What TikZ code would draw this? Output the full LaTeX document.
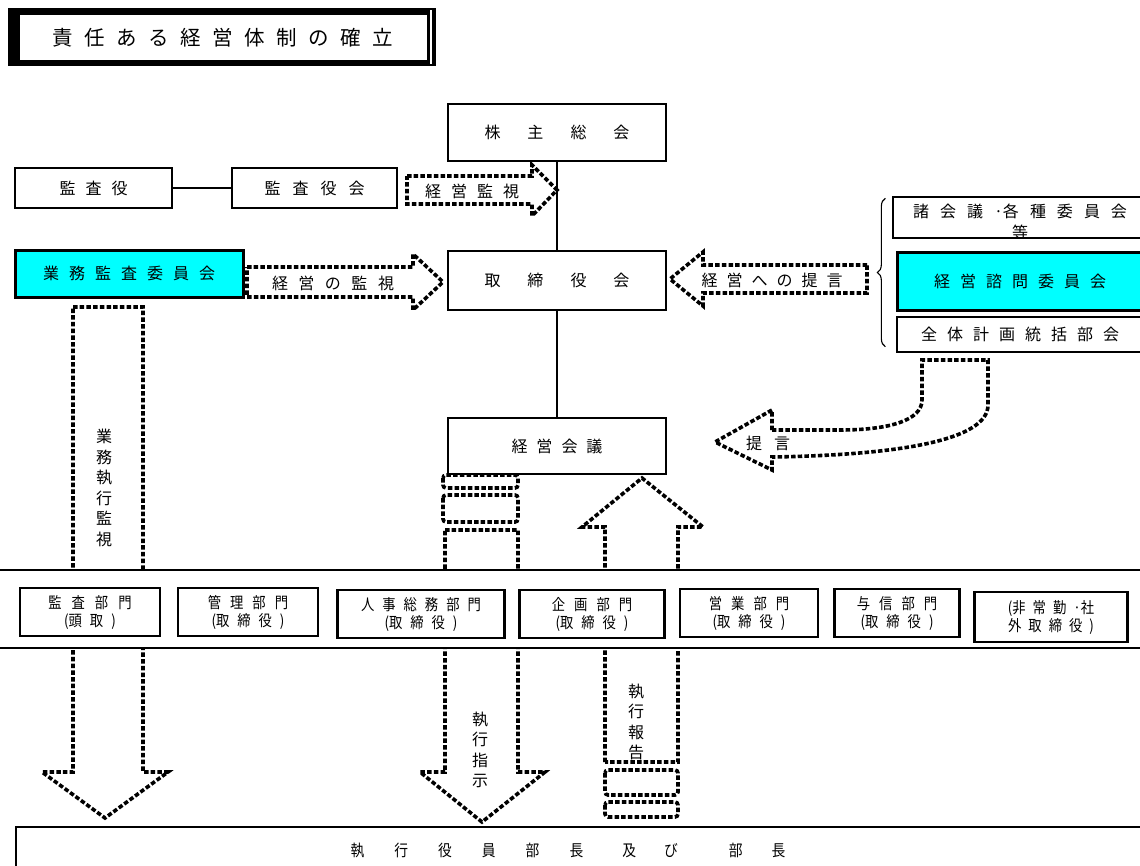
\documentclass[tikz,border=0pt]{standalone}
\usepackage{fontspec}
\setmainfont{Noto Sans CJK JP}
\newfontfamily\narrowjp[FakeStretch=0.86]{Noto Sans CJK JP}
\usetikzlibrary{decorations.pathreplacing}
\definecolor{boardcyan}{RGB}{0,255,255}

% spread the characters of #2 apart by #1
\ExplSyntaxOn
\NewDocumentCommand \spaced { m m }
  {
    \seq_set_split:Nnn \l_tmpa_seq { } { #2 }
    \seq_use:Nn \l_tmpa_seq { \hspace{#1} }
  }
\ExplSyntaxOff

\begin{document}
\begin{tikzpicture}[x=1pt,y=-1pt,
  font=\fontsize{16}{20.5}\selectfont,
  box/.style={draw, line width=1.3pt, fill=white, inner sep=0pt},
  boldbox/.style={box, line width=2.4pt},
  cyanbox/.style={box, line width=3pt, fill=boardcyan},
  deptbox/.style={box, line width=2.6pt, minimum height=48pt, align=center,
    font=\narrowjp\fontsize{15.5}{18}\selectfont},
  blockarrow/.style={line width=3.6pt, dash pattern=on 4.5pt off 2.2pt, fill=white},
  stripe/.style={blockarrow, rounded corners=3pt},
  vtext/.style={align=center, inner sep=0pt},
  link/.style={line width=1.1pt}]
  \useasboundingbox (0,0) rectangle (1140,865);

  % title
  \fill (8,8) rectangle (436,66);
  \fill[white] (20,15) rectangle (427,60);
  \draw[white, line width=1.2pt] (431,10) -- (431,64);
  \node (title) at (223,38) {\fontsize{20.5}{24}\selectfont\spaced{11.5pt}{責任ある経営体制の確立}};

  % block arrows
  \draw[blockarrow] (407,176) -- (532,176) -- (532,165) -- (557,190) -- (532,216) -- (532,204) -- (407,204) -- cycle;
  \node (watch) at (472,191) {\spaced{10pt}{経営監視}};
  \draw[blockarrow] (247,267) -- (413,267) -- (413,254) -- (443,282) -- (413,310) -- (413,297) -- (247,297) -- cycle;
  \node (oversight) at (333,283) {\spaced{10.5pt}{経営の監視}};
  \draw[blockarrow] (867,265) -- (703,265) -- (703,252) -- (670,279) -- (703,306) -- (703,293) -- (867,293) -- cycle;
  \node (advice) at (772,280) {\spaced{9pt}{経営への提言}};
  \draw[blockarrow] (772,430) -- (772,410) -- (715,442) -- (772,470) -- (772,457)
    .. controls (900,455) and (988,440) .. (988,405) -- (988,360) -- (922,360) -- (922,400)
    .. controls (922,420) and (890,430) .. (840,430) -- cycle;
  \node (proposal) at (768,443) {\spaced{12pt}{提言}};

  % vertical arrows
  \draw[blockarrow] (73,307) -- (143,307) -- (143,772) -- (168,772) -- (105,818) -- (42,772) -- (73,772) -- cycle;
  \node[vtext] (execwatch) at (104,488) {業\\務\\執\\行\\監\\視};
  \draw[stripe] (443,475) rectangle (518,488);
  \draw[stripe] (443,495) rectangle (518,522);
  \draw[blockarrow] (445,530) -- (518,530) -- (518,772) -- (545,772) -- (482,822) -- (420,772) -- (445,772) -- cycle;
  \node[vtext] (order) at (480,750) {執\\行\\指\\示};
  \draw[blockarrow] (605,762) -- (605,527) -- (582,527) -- (642,478) -- (703,527) -- (678,527) -- (678,762) -- cycle;
  \draw[stripe] (605,770) rectangle (678,795);
  \draw[stripe] (605,802) rectangle (678,817);
  \node[vtext] (report) at (636,722) {執\\行\\報\\告};

  % governance boxes
  \node[boldbox, minimum width=218pt, minimum height=57pt] (agm) at (557,132.5) {\spaced{27pt}{株主総会}};
  \node[boldbox, minimum width=218pt, minimum height=59pt] (board) at (557,280.5) {\spaced{27pt}{取締役会}};
  \node[boldbox, minimum width=218pt, minimum height=56pt] (mgmt) at (557,446) {\spaced{9pt}{経営会議}};
  \node[box, minimum width=157pt, minimum height=40pt] (auditor) at (93.5,188) {\spaced{10pt}{監査役}};
  \node[box, minimum width=165pt, minimum height=40pt] (auditboard) at (314.5,188) {\spaced{12pt}{監査役会}};
  \node[cyanbox, minimum width=228pt, minimum height=47pt] (auditcom) at (129,273.5) {\spaced{10pt}{業務監査委員会}};

  \draw[link] (auditor) -- (auditboard);
  \draw[link] (agm) -- (board);
  \draw[link] (board) -- (mgmt);

  % advisory side
  \node[box, minimum width=252pt, minimum height=41pt] (councils) at (1019,217.5) {};
  \begin{scope}
    \clip (893,197) rectangle (1145,238);
    \node[align=center] (councilstext) at (1020,222) {\spaced{11pt}{諸会議{·各}種委員会}\\等};
  \end{scope}
  \node[cyanbox, minimum width=246pt, minimum height=58pt] (advisory) at (1020,281) {\spaced{10pt}{経営諮問委員会}};
  \node[box, minimum width=246pt, minimum height=35pt] (planning) at (1020,334.5) {\spaced{10pt}{全体計画統括部会}};
  \draw[decorate, decoration={brace, amplitude=8pt}, line width=1.1pt]
    ([xshift=-11pt,yshift=6pt]planning.south west) -- ([xshift=-7pt,yshift=-2pt]councils.north west);

  % departments
  \fill[white] (0,570) rectangle (1140,648);
  \draw[line width=1.6pt] (0,570) -- (1140,570) (0,648) -- (1140,648);
  \node[deptbox, minimum width=140pt] (audit) at (90,612) {\spaced{10pt}{監査部門}\\\spaced{8pt}{{(頭}取)}};
  \node[deptbox, minimum width=140pt] (admin) at (248,612) {\spaced{9pt}{管理部門}\\\spaced{8pt}{{(取}締役)}};
  \node[deptbox, minimum width=167pt] (hr) at (421,614) {\spaced{8pt}{人事総務部門}\\\spaced{8pt}{{(取}締役)}};
  \node[deptbox, minimum width=145pt] (planningdept) at (592,614) {\spaced{9pt}{企画部門}\\\spaced{8pt}{{(取}締役)}};
  \node[deptbox, minimum width=138pt] (sales) at (749,613) {\spaced{9pt}{営業部門}\\\spaced{8pt}{{(取}締役)}};
  \node[deptbox, minimum width=125pt] (credit) at (897,613) {\spaced{9pt}{与信部門}\\\spaced{8pt}{{(取}締役)}};
  \node[deptbox, minimum width=153pt, minimum height=50pt] (outside) at (1051,617) {\spaced{7pt}{{(非}常勤{·社}}\\\spaced{7pt}{外取締役)}};

  % officers
  \node[box, line width=2.2pt, minimum width=1135pt, minimum height=60pt, anchor=north west] (officers) at (15,826) {};
  \node[font=\narrowjp\fontsize{16}{18}\selectfont] (officerstext) at (568,851)
    {\spaced{30pt}{執行役員部長}\hspace{39pt}\spaced{28pt}{及び}\hspace{51pt}\spaced{29pt}{部長}};
\end{tikzpicture}
\end{document}
